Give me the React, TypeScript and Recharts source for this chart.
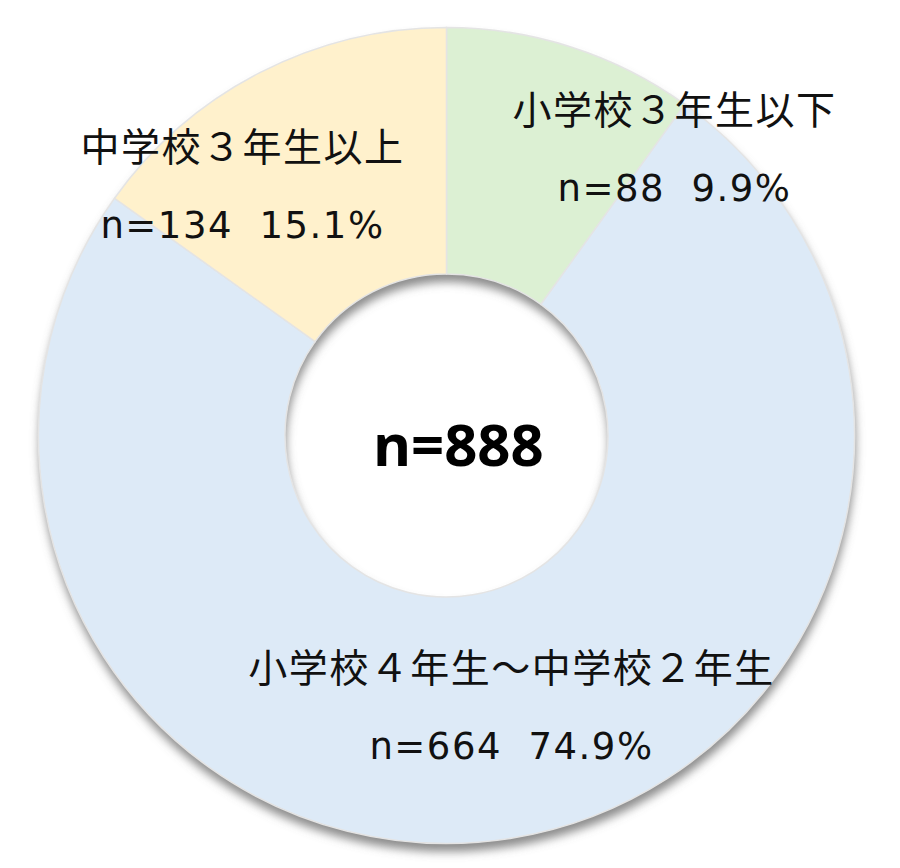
import React from 'react';
import { PieChart, Pie, Cell, Label } from 'recharts';

const CATEGORIES = ['小学校３年生以下', '小学校４年生～中学校２年生', '中学校３年生以上'];
const COUNTS = [88, 664, 134];
const PERCENT_LABELS = ['9.9%', '74.9%', '15.1%'];
const TOTAL_LABEL = 'n=888';
const COLORS = ['#DCF0D3', '#DDEAF7', '#FFF1CC'];
// label block centres, relative to the pie centre
const LABEL_OFFSETS = [
  { dx: 228, dy: -289 },
  { dx: 65, dy: 269 },
  { dx: -204, dy: -252 },
];

const data = CATEGORIES.map((name, i) => ({ name, value: COUNTS[i], pct: PERCENT_LABELS[i] }));
const shadowData = [{ name: 'shadow', value: 1 }];

const CX = 446.5;
const CY = 435.5;
const OUTER = 408;
const INNER = 161.5;

const renderLabel = (props: any) => {
  const { cx, cy, index } = props;
  const off = LABEL_OFFSETS[index];
  const x = cx + off.dx;
  const y = cy + off.dy;
  const d = data[index];
  return (
    <g key={`lbl-${index}`}>
      <text
        x={x}
        y={y - 40}
        textAnchor="middle"
        dominantBaseline="central"
        fontFamily="'Noto Sans CJK JP', sans-serif"
        fontSize={39}
        letterSpacing={1.5}
        fill="#111"
      >
        {d.name}
      </text>
      <text
        x={x}
        y={y + 42}
        textAnchor="middle"
        dominantBaseline="central"
        fontFamily="'DejaVu Sans', sans-serif"
        fontSize={37}
        letterSpacing={1.5}
        fill="#111"
      >
        {`n=${d.value}\u00a0\u00a0${d.pct}`}
      </text>
    </g>
  );
};

const CenterText = (props: any) => {
  const vb = props.viewBox || {};
  const cx = vb.cx ?? CX;
  const cy = vb.cy ?? CY;
  return (
    <text
      x={cx + 12}
      y={cy + 8}
      textAnchor="middle"
      dominantBaseline="central"
      fontFamily="'Noto Sans', sans-serif"
      fontWeight={700}
      fontSize={58}
      fill="#000"
    >
      {TOTAL_LABEL}
    </text>
  );
};

export default function App() {
  return (
    <div style={{ position: 'absolute', left: 0, top: 0, width: 900, height: 868, background: '#fff' }}>
      <svg width={0} height={0} style={{ position: 'absolute' }}>
        <defs>
          <filter id="ringShadow" x="-20%" y="-20%" width="140%" height="140%">
            <feGaussianBlur in="SourceGraphic" stdDeviation="5" result="b" />
            <feOffset in="b" dx="1" dy="8" />
          </filter>
        </defs>
      </svg>
      <PieChart width={900} height={868} margin={{ top: 0, right: 0, bottom: 0, left: 0 }}>
        <Pie
          data={shadowData}
          dataKey="value"
          cx={CX}
          cy={CY}
          innerRadius={INNER}
          outerRadius={OUTER}
          startAngle={90}
          endAngle={-270}
          stroke="none"
          isAnimationActive={false}
          label={false}
        >
          <Cell fill="#707070" fillOpacity={0.8} filter="url(#ringShadow)" />
        </Pie>
        <Pie
          data={data}
          dataKey="value"
          nameKey="name"
          cx={CX}
          cy={CY}
          innerRadius={INNER}
          outerRadius={OUTER}
          startAngle={90}
          endAngle={-270}
          stroke="#E4E4E4"
          strokeWidth={1.5}
          isAnimationActive={false}
          labelLine={false}
          label={renderLabel}
        >
          {data.map((d, i) => (
            <Cell key={d.name} fill={COLORS[i]} />
          ))}
          <Label position="center" content={<CenterText />} />
        </Pie>
      </PieChart>
    </div>
  );
}
